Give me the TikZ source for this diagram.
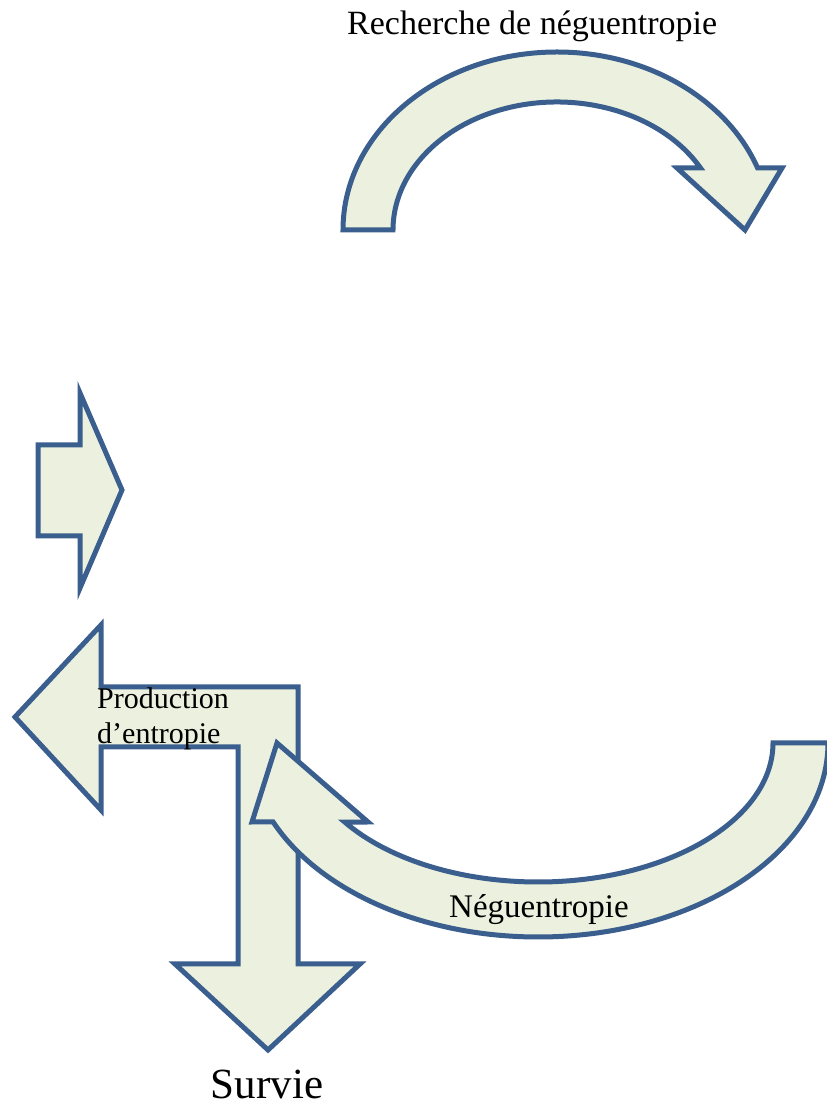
\documentclass[tikz,border=0pt]{standalone}
\usepackage{fontspec}
\setmainfont{Liberation Serif}
\usepackage{tikz}
\definecolor{arrowline}{HTML}{3A5F8E}
\definecolor{arrowfill}{HTML}{EBF1DE}

\begin{document}
\begin{tikzpicture}[x=1pt,y=1pt,
      arr/.style={draw=arrowline,fill=arrowfill,line width=5pt},
      lbl/.style={inner sep=0pt,font=\fontsize{#1}{35}\selectfont}]
    \useasboundingbox (0,0) rectangle (827,1106);
    \coordinate (T) at (557,876);
    \coordinate (B) at (538,363);
    \draw[arr] (393,876) -- (343,876)
      arc[start angle=180,end angle=20.4,x radius=214pt,y radius=178pt]
      -- (782,938) -- (745,876) -- (677,938)
      -- ([shift={(T)}]29:164pt and 128pt)
      arc[start angle=29,end angle=180,x radius=164pt,y radius=128pt] -- cycle;
    \draw[arr] (38,661) -- (80,661) -- (80,713) -- (122,616)
      -- (80,518) -- (80,570) -- (38,570) -- cycle;
    \draw[arr] (15,389) -- (101,481) -- (101,419) -- (298,419) -- (298,142)
      -- (360,142) -- (268,56) -- (175,142) -- (238,142) -- (238,359)
      -- (101,359) -- (101,296) -- cycle;
    \draw[arr] (773,363) -- (828,363)
      arc[start angle=0,end angle=-156,x radius=290pt,y radius=194pt]
      -- (252,284) -- (277,363) -- (368,284)
      -- ([shift={(B)}]214.7:235pt and 139pt)
      arc[start angle=214.7,end angle=360,x radius=235pt,y radius=139pt] -- cycle;
    \node[lbl=34,anchor=base west] (recherche) at (347,1071) {Recherche de néguentropie};
    \node[lbl=30,anchor=base west,align=left] (production) at (97,362) {Production\\d’entropie};
    \node[lbl=33,anchor=base] (neguentropie) at (539,188) {Néguentropie};
    \node[lbl=43,anchor=base] (survie) at (267,8) {Survie};
  \end{tikzpicture}
\end{document}
